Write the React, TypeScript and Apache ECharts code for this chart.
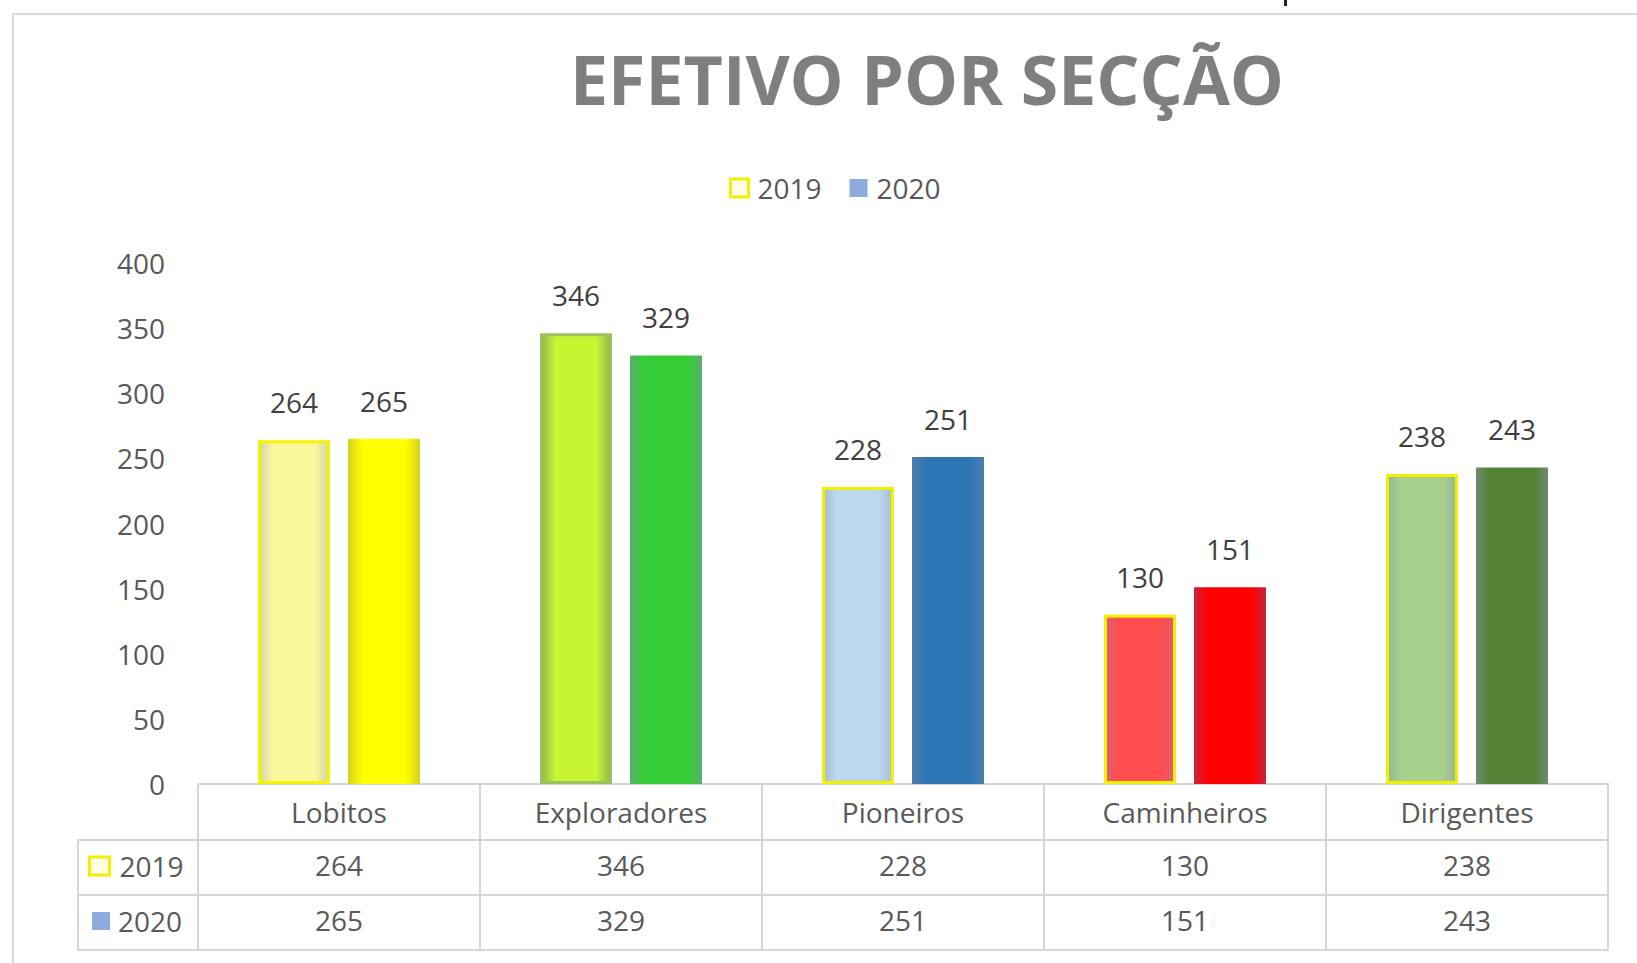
import React, { useEffect, useRef } from "react";
import * as echarts from "echarts";

// ---- data ----
const titleText = "EFETIVO POR SECÇÃO";
const categories = ["Lobitos", "Exploradores", "Pioneiros", "Caminheiros", "Dirigentes"];
const seriesNames = ["2019", "2020"];
const values2019 = [264, 346, 228, 130, 238];
const values2020 = [265, 329, 251, 151, 243];
const yMin = 0;
const yMax = 400;
const yStep = 50;

// ---- styles ----
const FONT = "'Open Sans', 'Noto Sans', sans-serif";
const center2019 = ["#fbf89e", "#c8f532", "#bdd7ee", "#ff4d50", "#a9d18e"];
const edge2019 = ["#d6d3ac", "#8fb553", "#a7bdd3", "#dd6070", "#95b596"];
const border2019 = ["#f4f400", "#9cc25c", "#f2f200", "#f4f000", "#eef200"];
const center2020 = ["#ffff00", "#36cc36", "#2e75b6", "#ff0000", "#548235"];
const edge2020 = ["#d2d21e", "#5aae6c", "#4e7eac", "#c62440", "#6b8c6e"];
const GRID_LINE = "#d6d6d6";

const grad = (edge: string, center: string) =>
  new echarts.graphic.LinearGradient(0, 0, 1, 0, [
    { offset: 0, color: edge },
    { offset: 0.2, color: center },
    { offset: 0.8, color: center },
    { offset: 1, color: edge },
  ]);

const legendItems = [
  { name: seriesNames[0], itemStyle: { color: "#fffde4", borderColor: "#f0f000", borderWidth: 3 } },
  { name: seriesNames[1], itemStyle: { color: "#8faadc", borderWidth: 0 } },
];

export default function App() {
  const ref = useRef<HTMLDivElement>(null);

  useEffect(() => {
    if (!ref.current) return;
    const chart = echarts.init(ref.current, undefined, { renderer: "svg" });

    const labelStyle = { fontSize: 28, color: "#404040", fontFamily: FONT };
    const legendText = { fontSize: 28, color: "#595959", fontFamily: FONT, padding: [0, 0, 0, 4] };

    const tableAxis = (offset: number, values: number[] | null) => ({
      type: "category",
      data: categories,
      position: "bottom",
      offset,
      gridIndex: 0,
      axisLine: { show: true, lineStyle: { color: GRID_LINE, width: 2 } },
      axisTick: { show: false },
      axisLabel: values
        ? {
            show: true,
            interval: 0,
            margin: 25,
            verticalAlign: "middle",
            fontSize: 28,
            color: "#595959",
            fontFamily: FONT,
            formatter: (_v: string, i: number) => String(values[i]),
          }
        : { show: false },
      splitLine: { show: false },
    });

    chart.setOption({
      animation: false,
      backgroundColor: "#ffffff",
      textStyle: { fontFamily: FONT },
      grid: { left: 198, right: 29, top: 263, bottom: 179, containLabel: false },
      legend: [
        {
          data: legendItems,
          left: 729,
          top: 174,
          padding: 0,
          icon: "rect",
          itemWidth: 18,
          itemHeight: 18,
          itemGap: 28,
          selectedMode: false,
          textStyle: legendText,
        },
        {
          data: [legendItems[0]],
          left: 88,
          top: 852,
          padding: 0,
          icon: "rect",
          itemWidth: 20,
          itemHeight: 18,
          selectedMode: false,
          textStyle: { ...legendText, padding: [0, 0, 0, 5] },
        },
        {
          data: [legendItems[1]],
          left: 92,
          top: 907,
          padding: 0,
          icon: "rect",
          itemWidth: 18,
          itemHeight: 18,
          selectedMode: false,
          textStyle: { ...legendText, padding: [0, 0, 0, 3] },
        },
      ],
      xAxis: [
        {
          type: "category",
          data: categories,
          position: "bottom",
          axisLine: { show: true, lineStyle: { color: GRID_LINE, width: 2 } },
          axisTick: {
            show: true,
            alignWithLabel: false,
            interval: 0,
            length: 166,
            lineStyle: { color: GRID_LINE, width: 2 },
          },
          axisLabel: {
            interval: 0,
            margin: 28,
            verticalAlign: "middle",
            fontSize: 28,
            color: "#595959",
            fontFamily: FONT,
          },
          splitLine: { show: false },
        },
        tableAxis(56, values2019),
        tableAxis(111, values2020),
        tableAxis(166, null),
      ],
      yAxis: {
        type: "value",
        min: yMin,
        max: yMax,
        interval: yStep,
        axisLine: { show: false },
        axisTick: { show: false },
        splitLine: { show: false },
        axisLabel: { margin: 33, fontSize: 28, color: "#595959", fontFamily: FONT },
      },
      series: [
        {
          name: seriesNames[0],
          type: "bar",
          xAxisIndex: 0,
          barWidth: 72,
          barGap: "25%",
          itemStyle: { color: "#fffde4", borderColor: "#f0f000", borderWidth: 3 },
          label: { show: true, position: "top", distance: 24, ...labelStyle },
          data: values2019.map((v, i) => ({
            value: v,
            itemStyle: {
              color: grad(edge2019[i], center2019[i]),
              borderColor: border2019[i],
              borderWidth: 3,
            },
          })),
        },
        {
          name: seriesNames[1],
          type: "bar",
          xAxisIndex: 0,
          barWidth: 72,
          barGap: "25%",
          itemStyle: { color: "#8faadc" },
          label: { show: true, position: "top", distance: 24, ...labelStyle },
          data: values2020.map((v, i) => ({
            value: v,
            itemStyle: { color: grad(edge2020[i], center2020[i]) },
          })),
        },
      ],
      graphic: [
        {
          type: "rect",
          silent: true,
          shape: { x: 13, y: 14, width: 1700, height: 1000 },
          style: { fill: "none", stroke: "#d9d9d9", lineWidth: 2 },
        },
        {
          type: "rect",
          silent: true,
          shape: { x: 1284, y: 0, width: 3, height: 6 },
          style: { fill: "#222" },
        },
        {
          type: "text",
          silent: true,
          x: 927,
          y: 78,
          style: {
            text: titleText,
            fontSize: 68,
            fontWeight: "bold",
            fontFamily: FONT,
            fill: "#7f7f7f",
            align: "center",
            verticalAlign: "middle",
            textAlign: "center",
            textVerticalAlign: "middle",
          },
        },
        {
          type: "line",
          silent: true,
          shape: { x1: 77, y1: 840, x2: 198, y2: 840 },
          style: { stroke: GRID_LINE, lineWidth: 2 },
        },
        {
          type: "line",
          silent: true,
          shape: { x1: 77, y1: 895, x2: 198, y2: 895 },
          style: { stroke: GRID_LINE, lineWidth: 2 },
        },
        {
          type: "line",
          silent: true,
          shape: { x1: 77, y1: 950, x2: 198, y2: 950 },
          style: { stroke: GRID_LINE, lineWidth: 2 },
        },
        {
          type: "line",
          silent: true,
          shape: { x1: 78, y1: 839, x2: 78, y2: 951 },
          style: { stroke: GRID_LINE, lineWidth: 2 },
        },
      ],
    });

    return () => chart.dispose();
  }, []);

  return (
    <div
      ref={ref}
      style={{ position: "fixed", left: 0, top: 0, width: 1637, height: 963 }}
    />
  );
}
